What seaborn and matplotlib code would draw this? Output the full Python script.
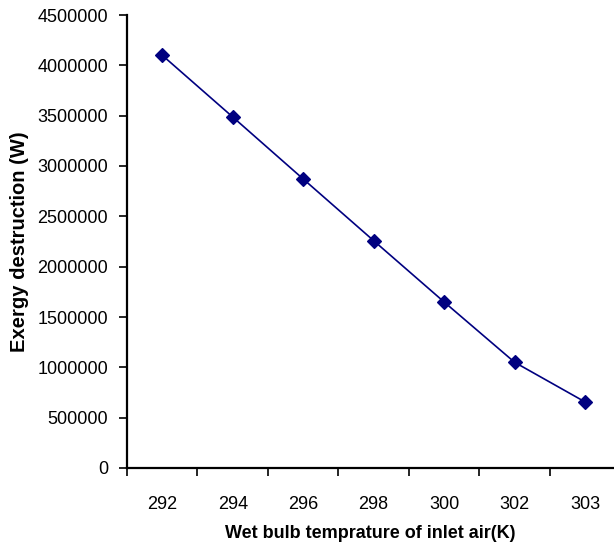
import matplotlib
matplotlib.use("Agg")
import matplotlib.pyplot as plt
import seaborn as sns
import numpy as np
from matplotlib.ticker import FixedLocator

temps = ["292", "294", "296", "298", "300", "302", "303"]
exergy = [4100000, 3487000, 2871000, 2258000, 1649000, 1050000, 656000]
yticks = [0, 500000, 1000000, 1500000, 2000000, 2500000, 3000000, 3500000, 4000000, 4500000]

sns.set_style("white")
plt.rcParams['font.family'] = ['Liberation Sans', 'DejaVu Sans']
plt.rcParams['text.color'] = 'black'
plt.rcParams['axes.labelcolor'] = 'black'
plt.rcParams['xtick.color'] = 'black'
plt.rcParams['ytick.color'] = 'black'

fig = plt.figure(figsize=(6.14, 5.48), dpi=100)
ax = fig.add_axes([127/614, 1-468/548, 1-127/614, (468-15)/548])

sns.pointplot(x=temps, y=exergy, color="#000080", markers="D", linestyles="-",
              markersize=7.5, linewidth=1.2, ax=ax)

ax.set_ylim(0, 4500000)
ax.set_xlim(-0.5, 6.41)
ax.set_yticks(yticks)
ax.set_yticklabels([str(v) for v in yticks], fontsize=13)
ax.set_xticks(range(len(temps)))
ax.set_xticklabels(temps, fontsize=13)
ax.tick_params(axis='x', which='major', length=0, pad=20)
ax.xaxis.set_minor_locator(FixedLocator(np.arange(-0.5, 6.5, 1.0)))
ax.tick_params(axis='x', which='minor', length=5.5, width=1.2, direction='out', bottom=True)
ax.tick_params(axis='y', length=5.5, width=1.2, direction='out', left=True, pad=8)

for s in ["top", "right"]:
    ax.spines[s].set_visible(False)
for s in ["left", "bottom"]:
    ax.spines[s].set_color("black")
    ax.spines[s].set_linewidth(1.6)

ax.set_xlabel("Wet bulb temprature of inlet air(K)", fontsize=13, fontweight="bold", labelpad=9)
ax.set_ylabel("Exergy destruction (W)", fontsize=14.5, fontweight="bold", labelpad=6)

fig.savefig("out.png", dpi=100)
